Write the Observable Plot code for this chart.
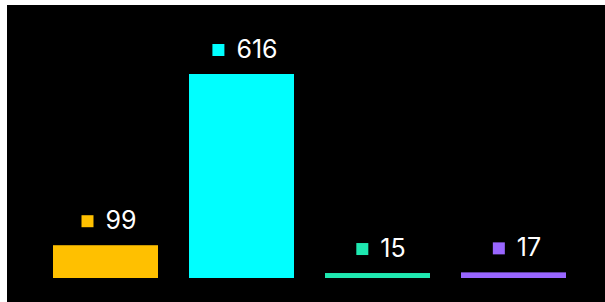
<!DOCTYPE html>
<html>
<head>
<meta charset="utf-8">
<script src="https://cdn.jsdelivr.net/npm/d3@7"></script>
<script src="https://cdn.jsdelivr.net/npm/@observablehq/plot@0.6"></script>
<style>
  html, body { margin: 0; padding: 0; background: #ffffff; overflow: hidden; }
  #chart { position: absolute; left: 7px; top: 5px; }
  #chart svg { display: block; background: #000000; }
</style>
</head>
<body>
<div id="chart"></div>
<script>
const categories = ["A", "B", "C", "D"];
const values = [99, 616, 15, 17];
const colors = ["#ffc000", "#00ffff", "#1ee8b0", "#9966ff"];

const data = categories.map((c, i) => ({category: c, value: values[i], color: colors[i]}));

const svg = Plot.plot({
  width: 598,
  height: 297,
  marginLeft: 14,
  marginRight: 7,
  marginTop: 69,
  marginBottom: 24,
  style: {background: "#000000", fontFamily: "Inter, 'Noto Sans', sans-serif"},
  x: {domain: categories, paddingInner: 0.226, paddingOuter: 0.226, axis: null},
  y: {domain: [0, 616], axis: null},
  marks: [
    Plot.barY(data, {x: "category", y: "value", fill: "color"}),
    Plot.dot(data, {x: "category", y: "value", fill: "color", symbol: "square", r: 6.77, dy: -24.5, stroke: null}),
    Plot.text(data, {x: "category", y: "value", text: d => String(d.value), fill: "#ffffff",
      fontSize: 25, fontWeight: 400, textAnchor: "start", lineAnchor: "bottom", dy: -17})
  ]
});
document.getElementById("chart").append(svg);

// Centre each (square + gap + number) group over its bar
const texts = svg.querySelectorAll('g[aria-label="text"] text');
const squares = svg.querySelectorAll('g[aria-label="dot"] path');
texts.forEach((t, i) => {
  const w = t.getComputedTextLength();
  const left = -(24 + w) / 2 + 3;
  t.setAttribute("transform", (t.getAttribute("transform") || "") + ` translate(${left + 24},0)`);
  const s = squares[i];
  if (s) s.setAttribute("transform", (s.getAttribute("transform") || "") + ` translate(${left + 6},0)`);
});
</script>
</body>
</html>
